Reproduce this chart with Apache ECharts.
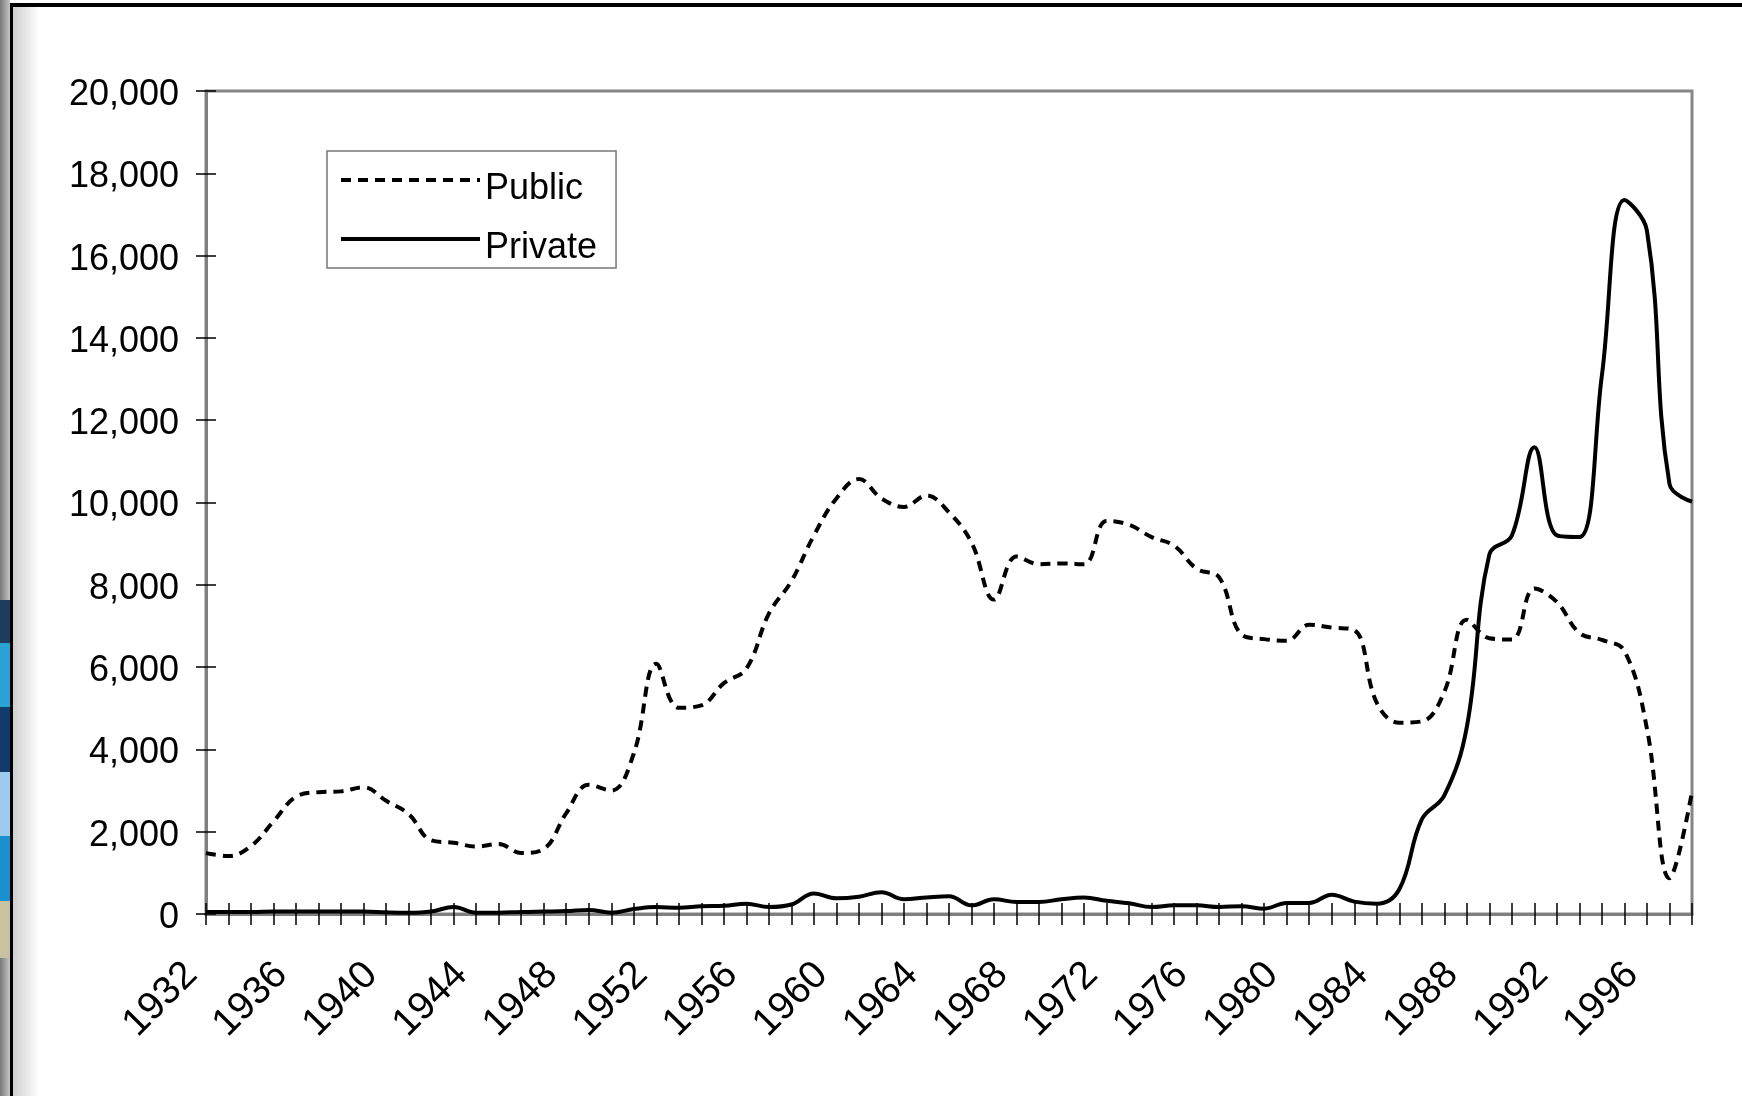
<!DOCTYPE html>
<html>
<head>
<meta charset="utf-8">
<script src="https://cdn.jsdelivr.net/npm/echarts@6/dist/echarts.min.js"></script>
<style>
  html, body { margin: 0; padding: 0; background: #fff; overflow: hidden; }
  #strip { position: absolute; left: 0; top: 0; width: 10px; height: 1096px;
    background: linear-gradient(to right, #7a7a7a, #c4c4c4); }
  #stripBlue { position: absolute; left: 0; top: 600px; width: 10px; height: 358px;
    background: linear-gradient(to bottom, #1d3c5e 0%, #1d3c5e 12%, #2aa2d4 12%, #2aa2d4 30%,
      #123a6a 30%, #123a6a 48%, #9ccbed 48%, #9ccbed 66%, #1c8fd0 66%, #1c8fd0 84%, #c9c2a0 84%, #c9c2a0 100%); }
  #frameLeft { position: absolute; left: 10px; top: 3px; width: 3px; height: 1093px; background: #000; }
  #frameTop { position: absolute; left: 10px; top: 3px; width: 1732px; height: 4px; background: #000; }
  #shade { position: absolute; left: 13px; top: 7px; width: 26px; height: 1089px;
    background: linear-gradient(to right, #cfcfcf, rgba(255,255,255,0)); }
  #main { position: absolute; left: 0; top: 0; width: 1742px; height: 1096px; }
</style>
</head>
<body>
<div id="strip"></div>
<div id="stripBlue"></div>
<div id="frameLeft"></div>
<div id="frameTop"></div>
<div id="shade"></div>
<div id="main"></div>
<script>
// years 1932 .. 1998
const years = [];
for (let y = 1932; y <= 1998; y++) years.push(String(y));

const publicData = [
  1480, 1410, 1650, 2250, 2850, 2960, 2980, 3080, 2750, 2430,
  1790, 1730, 1640, 1700, 1480, 1580, 2450, 3140, 3000, 3900,
  6080, 5010, 5070, 5610, 5960, 7300, 8090, 9200, 10100, 10570,
  10100, 9890, 10170, 9760, 9030, 7640, 8690, 8500, 8520, 8500,
  9550, 9460, 9160, 8950, 8390, 8180, 6790, 6680, 6640, 7030,
  6960, 6900, 5130, 4650, 4680, 5400, 7150, 6700, 6670, 7910,
  7580, 6830, 6660, 6390, 4500, 870, 2970
];

const privateData = [
  50, 50, 50, 60, 60, 60, 60, 60, 40, 30,
  60, 170, 30, 30, 50, 60, 70, 100, 30, 120,
  170, 150, 190, 200, 250, 170, 230, 500, 380, 420,
  530, 360, 400, 430, 210, 360, 290, 290, 360, 400,
  320, 260, 170, 210, 210, 170, 190, 130, 270, 270,
  470, 300, 250, 600, 2300, 2880, 4550, 8740, 9200, 11340,
  9200, 9160, 13100, 17350, 16600, 10450, 10020
];

const font = 'Liberation Sans, Arial, sans-serif';
const myChart = echarts.init(document.getElementById('main'));

const option = {
  animation: false,
  grid: {
    left: 206, right: 50, top: 91, bottom: 182,
    show: true, borderColor: '#858585', borderWidth: 3, backgroundColor: 'transparent'
  },
  legend: {
    orient: 'vertical',
    left: 327, top: 151,
    padding: [2, 19, 2, 12],
    itemWidth: 139, itemHeight: 20, itemGap: 5,
    backgroundColor: '#fff',
    borderColor: '#777', borderWidth: 1.5, borderRadius: 0,
    formatter: '{t|{name}}',
    textStyle: {
      color: '#000', fontFamily: font, fontSize: 36,
      rich: { t: { fontSize: 36, lineHeight: 40, padding: [18, 0, 0, 0], color: '#000', fontFamily: font } }
    },
    lineStyle: { width: 4 },
    itemStyle: { color: 'rgba(0,0,0,0)', borderColor: 'rgba(0,0,0,0)', borderWidth: 0, opacity: 0 },
    data: ['Public', 'Private']
  },
  xAxis: [{
    type: 'category',
    data: years,
    boundaryGap: false,
    axisLine: { lineStyle: { color: '#7f7f7f', width: 3 } },
    axisTick: { interval: 0, length: 11, lineStyle: { color: '#000', width: 1.5 } },
    axisLabel: {
      interval: 3, rotate: 45, margin: 40,
      formatter: v => '{y|' + v + '}',
      rich: { y: { fontSize: 39, color: '#000', fontFamily: font, padding: [0, 21, 0, 0] } }
    },
    splitLine: { show: false }
  }, {
    type: 'category',
    data: years,
    boundaryGap: false,
    position: 'bottom',
    axisLine: { show: false },
    axisTick: { inside: true, interval: 0, length: 11, lineStyle: { color: '#000', width: 1.5 } },
    axisLabel: { show: false },
    splitLine: { show: false }
  }],
  yAxis: [{
    type: 'value',
    min: 0, max: 20000, interval: 2000,
    axisLine: { show: true, lineStyle: { color: '#7f7f7f', width: 3 } },
    axisTick: { show: true, length: 10, lineStyle: { color: '#000', width: 1.5 } },
    axisLabel: {
      margin: 27,
      formatter: v => '{v|' + v.toLocaleString('en-US') + '}',
      rich: { v: { fontSize: 36, color: '#000', fontFamily: font, padding: [8, 0, 0, 0] } }
    },
    splitLine: { show: false }
  }, {
    type: 'value',
    position: 'left',
    min: 0, max: 20000, interval: 2000,
    axisLine: { show: false },
    axisTick: { show: true, inside: true, length: 10, lineStyle: { color: '#000', width: 1.5 } },
    axisLabel: { show: false },
    splitLine: { show: false }
  }],
  series: [{
    name: 'Public',
    type: 'line',
    data: publicData,
    smooth: 0.4,
    symbol: 'none',
    color: '#000',
    lineStyle: { color: '#000', width: 4, type: [10, 7] }
  }, {
    name: 'Private',
    type: 'line',
    data: privateData,
    smooth: 0.4,
    symbol: 'none',
    color: '#000',
    lineStyle: { color: '#000', width: 4 }
  }]
};

myChart.setOption(option);
window.addEventListener('resize', function () {
  myChart.resize();
});
</script>
</body>
</html>
